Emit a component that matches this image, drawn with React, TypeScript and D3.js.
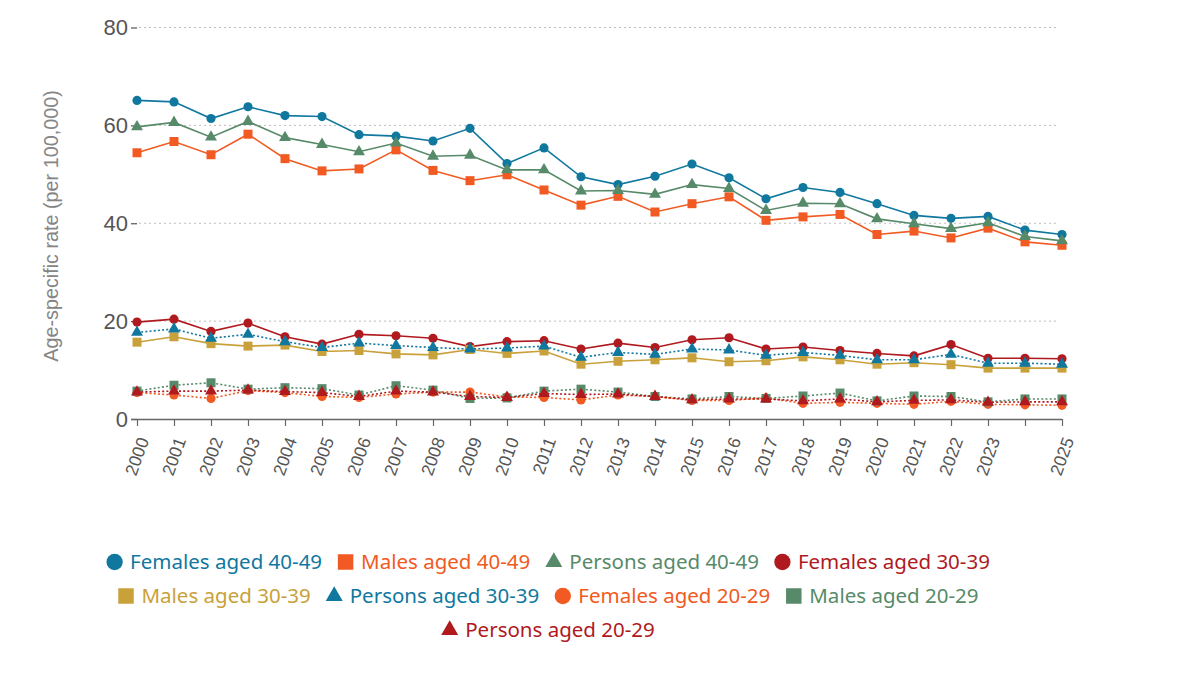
import React, { useEffect, useRef } from "react";
import * as d3 from "d3";

const years = [2000, 2001, 2002, 2003, 2004, 2005, 2006, 2007, 2008, 2009, 2010, 2011, 2012, 2013, 2014, 2015, 2016, 2017, 2018, 2019, 2020, 2021, 2022, 2023, 2024, 2025];
const xTickLabels = ["2000", "2001", "2002", "2003", "2004", "2005", "2006", "2007", "2008", "2009", "2010", "2011", "2012", "2013", "2014", "2015", "2016", "2017", "2018", "2019", "2020", "2021", "2022", "2023", "", "2025"];
const yTicks = [0, 20, 40, 60, 80];

const femalesAged4049 = [65.1, 64.8, 61.4, 63.8, 62.0, 61.8, 58.1, 57.8, 56.8, 59.4, 52.2, 55.4, 49.5, 47.9, 49.6, 52.1, 49.3, 45.0, 47.3, 46.3, 44.0, 41.6, 41.0, 41.4, 38.6, 37.7];
const malesAged4049 = [54.4, 56.7, 54.0, 58.2, 53.2, 50.7, 51.1, 55.0, 50.8, 48.7, 49.9, 46.8, 43.7, 45.5, 42.3, 44.0, 45.4, 40.6, 41.3, 41.8, 37.7, 38.4, 37.0, 39.0, 36.2, 35.5];
const personsAged4049 = [59.7, 60.6, 57.6, 60.8, 57.5, 56.1, 54.6, 56.4, 53.7, 53.9, 50.9, 50.9, 46.6, 46.7, 45.9, 47.9, 47.1, 42.6, 44.1, 44.0, 40.9, 39.9, 38.9, 40.1, 37.3, 36.4];
const femalesAged3039 = [19.8, 20.4, 17.9, 19.6, 16.8, 15.3, 17.3, 17.0, 16.5, 14.8, 15.8, 16.0, 14.3, 15.5, 14.6, 16.2, 16.6, 14.3, 14.7, 14.0, 13.4, 12.9, 15.2, 12.4, 12.4, 12.3];
const malesAged3039 = [15.7, 16.8, 15.4, 14.9, 15.1, 13.8, 14.0, 13.3, 13.1, 14.2, 13.4, 13.9, 11.2, 11.8, 12.1, 12.5, 11.7, 11.9, 12.7, 12.1, 11.2, 11.5, 11.1, 10.4, 10.4, 10.4];
const personsAged3039 = [17.7, 18.4, 16.5, 17.3, 15.8, 14.6, 15.5, 15.0, 14.6, 14.3, 14.5, 14.9, 12.6, 13.6, 13.2, 14.3, 14.1, 13.0, 13.6, 13.0, 12.1, 12.1, 13.2, 11.4, 11.4, 11.2];
const femalesAged2029 = [5.4, 4.9, 4.2, 5.8, 5.4, 4.6, 4.4, 5.1, 5.5, 5.5, 4.5, 4.4, 3.9, 4.9, 4.6, 3.8, 3.8, 4.3, 3.2, 3.4, 3.2, 3.0, 3.6, 3.0, 2.9, 2.8];
const malesAged2029 = [5.7, 6.9, 7.4, 6.1, 6.4, 6.2, 4.9, 6.8, 5.9, 4.2, 4.3, 5.7, 6.1, 5.5, 4.6, 4.1, 4.6, 4.2, 4.7, 5.3, 3.7, 4.7, 4.6, 3.5, 4.1, 4.1];
const personsAged2029 = [5.5, 5.7, 5.7, 5.9, 5.6, 5.4, 4.6, 5.7, 5.5, 4.6, 4.4, 5.2, 5.0, 5.1, 4.6, 3.9, 4.1, 4.1, 3.7, 4.1, 3.5, 3.8, 3.9, 3.4, 3.5, 3.5];

const seriesNames = [
  "Females aged 40-49", "Males aged 40-49", "Persons aged 40-49",
  "Females aged 30-39", "Males aged 30-39", "Persons aged 30-39",
  "Females aged 20-29", "Males aged 20-29", "Persons aged 20-29",
];
const seriesValues = [
  femalesAged4049, malesAged4049, personsAged4049,
  femalesAged3039, malesAged3039, personsAged3039,
  femalesAged2029, malesAged2029, personsAged2029,
];
const seriesColors = ["#10789f", "#f15a22", "#578a69", "#b0191e", "#c9a13a", "#10789f", "#f15a22", "#578a69", "#b0191e"];
const seriesShapes = ["circle", "square", "triangle", "circle", "square", "triangle", "circle", "square", "triangle"];
const seriesDotted = [false, false, false, false, false, true, true, true, true];
const legendRows = [[0, 1, 2, 3], [4, 5, 6, 7], [8]];

const W = 1200;
const H = 676;

function symbolFor(shape: string, legend: boolean) {
  if (shape === "circle") return d3.symbol().type(d3.symbolCircle).size(legend ? 210 : 66)();
  if (shape === "square") return d3.symbol().type(d3.symbolSquare).size(legend ? 240 : 81)();
  return d3.symbol().type(d3.symbolTriangle).size(legend ? 125 : 62)();
}

export default function App() {
  const ref = useRef<SVGSVGElement>(null);

  useEffect(() => {
    document.body.style.margin = "0";
    const svg = d3.select(ref.current);
    svg.selectAll("*").remove();

    const x = d3.scaleLinear().domain([2000, 2025]).range([137, 1062]);
    const y = d3.scaleLinear().domain([0, 80]).range([419, 27.5]);

    // gridlines
    svg.append("g")
      .selectAll("line")
      .data(yTicks.filter((t) => t > 0))
      .join("line")
      .attr("x1", 139)
      .attr("x2", 1057)
      .attr("y1", (d) => y(d))
      .attr("y2", (d) => y(d))
      .attr("stroke", "#bdbdbd")
      .attr("stroke-width", 1)
      .attr("stroke-dasharray", "2,3");

    // y axis
    const yAxis = svg.append("g").attr("transform", "translate(137,0)")
      .call(d3.axisLeft(y).tickValues(yTicks).tickSize(6).tickPadding(3).tickFormat(d3.format("d")));
    yAxis.select(".domain").remove();
    yAxis.selectAll(".tick line").attr("stroke", "#555").attr("stroke-width", 1.2);
    yAxis.selectAll(".tick text")
      .attr("fill", "#555")
      .style("font-family", "'Liberation Sans', Arial, sans-serif")
      .style("font-size", "22px");

    // x axis
    const xAxis = svg.append("g").attr("transform", "translate(0,419)")
      .call(d3.axisBottom(x).tickValues(years).tickSize(7).tickSizeOuter(0)
        .tickFormat((d, i) => xTickLabels[i]));
    xAxis.select(".domain").attr("stroke", "#666").attr("stroke-width", 1.5).attr("d", "M131,0.5H1062");
    xAxis.selectAll(".tick line").attr("stroke", "#666").attr("stroke-width", 1.2);
    xAxis.selectAll(".tick text")
      .attr("fill", "#555")
      .style("font-family", "'Liberation Sans', Arial, sans-serif")
      .style("font-size", "17.5px")
      .attr("text-anchor", "end")
      .attr("dy", "0.35em")
      .attr("transform", "translate(6,19) rotate(-70)")
      .attr("y", 0)
      .attr("x", 0);

    // y title
    svg.append("text")
      .attr("transform", "translate(58,226) rotate(-90)")
      .attr("text-anchor", "middle")
      .attr("fill", "#858585")
      .style("font-family", "'Liberation Sans', Arial, sans-serif")
      .style("font-size", "19.8px")
      .text("Age-specific rate (per 100,000)");

    // series
    const line = d3.line<number>().x((d, i) => x(years[i])).y((d) => y(d));
    seriesValues.forEach((vals, si) => {
      const g = svg.append("g");
      g.append("path")
        .attr("d", line(vals))
        .attr("fill", "none")
        .attr("stroke", seriesColors[si])
        .attr("stroke-width", 1.6)
        .attr("stroke-dasharray", seriesDotted[si] ? "2,2.2" : null);
      g.selectAll("path.mk")
        .data(vals)
        .join("path")
        .attr("class", "mk")
        .attr("d", symbolFor(seriesShapes[si], false))
        .attr("transform", (d, i) => `translate(${x(years[i])},${y(d)})`)
        .attr("fill", seriesColors[si]);
    });

    // legend
    const legendFont = "'Noto Sans', 'Open Sans', sans-serif";
    const legendSize = 20.5;
    const markerW = 17;
    const markerGap = 7;
    const itemGap = 15;
    const rowY = [562, 596, 630];
    const centerX = 548;
    const legendG = svg.append("g");
    legendRows.forEach((row, ri) => {
      const widths = row.map((si) => {
        const t = legendG.append("text")
          .style("font-family", legendFont)
          .style("font-size", legendSize + "px")
          .text(seriesNames[si]);
        const w = (t.node() as SVGTextElement).getComputedTextLength();
        t.remove();
        return markerW + markerGap + w;
      });
      const total = d3.sum(widths) + itemGap * (row.length - 1);
      let cx = centerX - total / 2;
      row.forEach((si, k) => {
        legendG.append("path")
          .attr("d", symbolFor(seriesShapes[si], true))
          .attr("transform", `translate(${cx + markerW / 2},${rowY[ri]})`)
          .attr("fill", seriesColors[si]);
        legendG.append("text")
          .attr("x", cx + markerW + markerGap)
          .attr("y", rowY[ri])
          .attr("dy", "0.35em")
          .attr("fill", seriesColors[si])
          .style("font-family", legendFont)
          .style("font-size", legendSize + "px")
          .text(seriesNames[si]);
        cx += widths[k] + itemGap;
      });
    });
  }, []);

  return <svg ref={ref} width={W} height={H} style={{ display: "block", background: "#fff" }} />;
}
